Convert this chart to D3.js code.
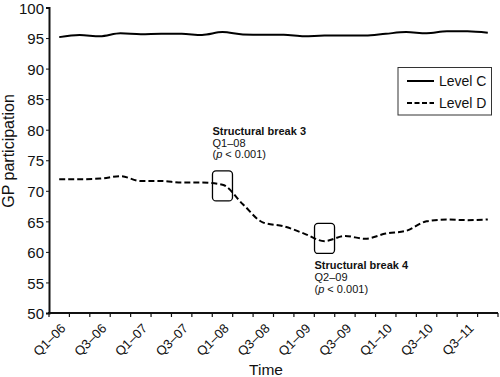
<!DOCTYPE html>
<html><head><meta charset="utf-8">
<script src="https://cdn.jsdelivr.net/npm/d3@7"></script>
<style>
body{margin:0;background:#fff;}
text{font-family:"Liberation Sans",Arial,sans-serif;fill:#111;}
</style></head>
<body>
<svg id="chart" width="500" height="377"></svg>
<script>
const categories = ["Q1–06","Q2–06","Q3–06","Q4–06","Q1–07","Q2–07","Q3–07","Q4–07",
  "Q1–08","Q2–08","Q3–08","Q4–08","Q1–09","Q2–09","Q3–09","Q4–09",
  "Q1–10","Q2–10","Q3–10","Q4–10","Q1–11","Q2–11"];
const xTickLabels = ["Q1–06","Q3–06","Q1–07","Q3–07","Q1–08","Q3–08","Q1–09","Q3–09","Q1–10","Q3–10","Q3–11"];
const levelC = [95.15,95.48,95.31,95.8,95.64,95.7,95.7,95.5,95.97,95.6,95.54,
  95.54,95.3,95.4,95.4,95.4,95.7,95.97,95.8,96.1,96.1,95.85];
const levelD = [71.9,71.9,72.0,72.4,71.6,71.6,71.35,71.35,71.0,67.8,64.8,
  64.2,63.0,61.76,62.6,62.15,63.0,63.45,65.0,65.3,65.2,65.3];
const yTicks = [50,55,60,65,70,75,80,85,90,95,100];
const seriesNames = ["Level C","Level D"];
const breakTitles = ["Structural break 3","Structural break 4"];
const breakCats = ["Q1–08","Q2–09"];
const breakBoxLevel = [70.8,62.2];

const svg = d3.select("#chart");
const x = d3.scaleBand().domain(categories).range([49,498]).padding(0);
const y = d3.scaleLinear().domain([50,100]).range([313,7.5]);

// Y axis
const ya = svg.append("g").attr("transform","translate(49,0)")
  .call(d3.axisLeft(y).tickValues(yTicks).tickSize(3).tickPadding(2));
ya.select(".domain").attr("stroke","#111").attr("stroke-width",2);
ya.selectAll(".tick line").attr("stroke","#111").attr("stroke-width",1);
ya.selectAll(".tick text").attr("dy","0.38em").style("font-size","15px")
  .style("font-family","Liberation Sans, Arial, sans-serif").attr("fill","#111");

// X axis
const xa = svg.append("g").attr("transform","translate(0,313)");
xa.append("line").attr("x1",48).attr("x2",498).attr("y1",0).attr("y2",0)
  .attr("stroke","#111").attr("stroke-width",2);
const bounds = categories.map(c=>x(c)).concat([x(categories[categories.length-1])+x.bandwidth()]);
xa.selectAll(".xt").data(bounds).enter().append("line")
  .attr("x1",d=>d).attr("x2",d=>d).attr("y1",0).attr("y2",4)
  .attr("stroke","#111").attr("stroke-width",1.2);
const labelCats = categories.filter((c,i)=>i%2===0);
xa.selectAll(".xl").data(labelCats).enter().append("text")
  .attr("transform",(c)=>`translate(${x(c)+x.bandwidth()/2+4},13) rotate(-45)`)
  .attr("text-anchor","end").attr("dy","0.35em")
  .style("font-size","13px")
  .text((c,i)=>xTickLabels[i]);

// Axis titles
svg.append("text").attr("x",266).attr("y",375).attr("text-anchor","middle")
  .style("font-size","15.5px").text("Time");
svg.append("text").attr("transform","translate(14,151) rotate(-90)").attr("text-anchor","middle")
  .style("font-size","16px").text("GP participation");

// Lines
const line = d3.line().x((d,i)=>x(categories[i])+x.bandwidth()/2).y(d=>y(d)).curve(d3.curveMonotoneX);
svg.append("path").datum(levelC).attr("d",line).attr("fill","none")
  .attr("stroke","#000").attr("stroke-width",2);
svg.append("path").datum(levelD).attr("d",line).attr("fill","none")
  .attr("stroke","#000").attr("stroke-width",2).attr("stroke-dasharray","6,3");

// Break boxes and labels
breakCats.forEach((c,i)=>{
  const cx = x(c)+x.bandwidth()/2;
  const cy = y(breakBoxLevel[i]);
  const bx = cx-10, by = cy-15;
  svg.append("rect").attr("x",bx).attr("y",by).attr("width",20).attr("height",30)
    .attr("rx",3.5).attr("fill","none").attr("stroke","#000").attr("stroke-width",1.3);
  const base = i===0 ? by-36 : by+46;
  const t = svg.append("text").attr("x",bx).attr("y",base).style("font-size","11px");
  t.append("tspan").attr("x",bx).attr("dy",0).style("font-weight","bold").text(breakTitles[i]);
  t.append("tspan").attr("x",bx).attr("dy",11.7).text(c);
  t.append("tspan").attr("x",bx).attr("dy",11.7).text("(");
  t.append("tspan").style("font-style","italic").text("p");
  t.append("tspan").text(" < 0.001)");
});

// Legend
const lg = svg.append("g");
lg.append("rect").attr("x",398).attr("y",67.5).attr("width",93.5).attr("height",47.5)
  .attr("fill","#fff").attr("stroke","#333").attr("stroke-width",1);
seriesNames.forEach((n,i)=>{
  const ly = 81 + i*22;
  lg.append("line").attr("x1",407).attr("x2",434).attr("y1",ly).attr("y2",ly)
    .attr("stroke","#000").attr("stroke-width",2)
    .attr("stroke-dasharray", i===1 ? "5,2.5" : null);
  lg.append("text").attr("x",439).attr("y",ly).attr("dy","0.35em")
    .style("font-size","14px").text(n);
});
</script>
</body></html>
